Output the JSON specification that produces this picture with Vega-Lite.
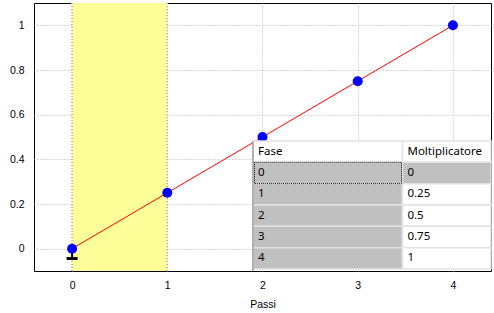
{
  "$schema": "https://vega.github.io/schema/vega-lite/v6.json",
  "width": 457,
  "height": 268,
  "autosize": "none",
  "padding": {"left": 34, "top": 3, "right": 3, "bottom": 42},
  "background": "white",
  "config": {
    "view": {"stroke": "black", "strokeWidth": 1},
    "axis": {
      "labelFont": "Liberation Sans",
      "labelFontSize": 10.5,
      "labelColor": "#000000",
      "titleFont": "Liberation Sans",
      "titleFontSize": 10.5,
      "titleFontWeight": "normal",
      "titleColor": "#000000",
      "domain": false,
      "ticks": false,
      "gridColor": "#b4b4b4",
      "gridDash": [1, 2],
      "gridWidth": 1
    }
  },
  "datasets": {
    "serie": [
      {"Passi": 0, "Moltiplicatore": 0, "ErrMin": -0.044},
      {"Passi": 1, "Moltiplicatore": 0.25},
      {"Passi": 2, "Moltiplicatore": 0.5},
      {"Passi": 3, "Moltiplicatore": 0.75},
      {"Passi": 4, "Moltiplicatore": 1}
    ],
    "tabella": [
      {"Fase": "Fase", "Moltiplicatore": "Moltiplicatore"},
      {"Fase": "0", "Moltiplicatore": "0"},
      {"Fase": "1", "Moltiplicatore": "0.25"},
      {"Fase": "2", "Moltiplicatore": "0.5"},
      {"Fase": "3", "Moltiplicatore": "0.75"},
      {"Fase": "4", "Moltiplicatore": "1"}
    ]
  },
  "layer": [
    {
      "data": {"name": "serie"},
      "layer": [
        {
          "data": {"values": [{"inizio": 0, "fine": 1}]},
          "mark": {"type": "rect", "color": "#ffff99"},
          "encoding": {
            "x": {"field": "inizio", "type": "quantitative", "scale": {"domain": [-0.4, 4.4], "nice": false, "zero": false}},
            "x2": {"field": "fine"}
          }
        },
        {
          "mark": {"type": "rule", "color": "#b4b4b4", "strokeDash": [1, 2], "strokeWidth": 1},
          "encoding": {"x": {"datum": 0, "type": "quantitative"}}
        },
        {
          "mark": {"type": "rule", "color": "#b4b4b4", "strokeDash": [1, 2], "strokeWidth": 1},
          "encoding": {"x": {"datum": 1, "type": "quantitative"}}
        },
        {
          "mark": {"type": "line", "color": "#ff0000", "strokeWidth": 1},
          "encoding": {
            "x": {
              "field": "Passi",
              "type": "quantitative",
              "scale": {"domain": [-0.4, 4.4], "nice": false, "zero": false},
              "axis": {"title": "Passi", "values": [0, 1, 2, 3, 4], "format": "d", "labelPadding": 9, "titlePadding": 9}
            },
            "y": {
              "field": "Moltiplicatore",
              "type": "quantitative",
              "scale": {"domain": [-0.1, 1.1], "nice": false, "zero": false},
              "axis": {"title": null, "values": [0, 0.2, 0.4, 0.6, 0.8, 1], "format": "~g", "labelPadding": 10}
            }
          }
        },
        {
          "transform": [{"filter": "isValid(datum.ErrMin)"}],
          "mark": {"type": "rule", "color": "#000000", "strokeWidth": 2},
          "encoding": {
            "x": {"field": "Passi", "type": "quantitative"},
            "y": {"field": "Moltiplicatore", "type": "quantitative"},
            "y2": {"field": "ErrMin"}
          }
        },
        {
          "transform": [{"filter": "isValid(datum.ErrMin)"}],
          "mark": {"type": "tick", "orient": "horizontal", "color": "#000000", "size": 11, "thickness": 3, "opacity": 1},
          "encoding": {
            "x": {"field": "Passi", "type": "quantitative"},
            "y": {"field": "ErrMin", "type": "quantitative"}
          }
        },
        {
          "mark": {"type": "circle", "color": "#0000ff", "size": 100, "opacity": 1},
          "encoding": {
            "x": {"field": "Passi", "type": "quantitative"},
            "y": {"field": "Moltiplicatore", "type": "quantitative"}
          }
        }
      ]
    },
    {
      "data": {"name": "tabella"},
      "encoding": {
        "y": {
          "field": "Fase",
          "type": "ordinal",
          "scale": {"domain": ["Fase", "0", "1", "2", "3", "4"], "range": [138, 266], "paddingInner": 0, "paddingOuter": 0},
          "axis": null
        }
      },
      "layer": [
        {
          "mark": {"type": "rect", "stroke": "#e2e2e2", "strokeWidth": 1.5},
          "encoding": {
            "x": {"datum": 1.9, "type": "quantitative"},
            "x2": {"datum": 3.47},
            "fill": {"condition": {"test": "datum.Fase === 'Fase'", "value": "#ffffff"}, "value": "#c0c0c0"}
          }
        },
        {
          "mark": {"type": "rect", "stroke": "#e2e2e2", "strokeWidth": 1.5},
          "encoding": {
            "x": {"datum": 3.47, "type": "quantitative"},
            "x2": {"datum": 4.4},
            "fill": {"condition": {"test": "datum.Fase === '0'", "value": "#c0c0c0"}, "value": "#ffffff"}
          }
        },
        {
          "transform": [{"filter": "datum.Fase === '0'"}],
          "mark": {"type": "rect", "fill": null, "fillOpacity": 0, "stroke": "#000000", "strokeWidth": 1, "strokeDash": [1, 1]},
          "encoding": {
            "x": {"datum": 1.915, "type": "quantitative"},
            "x2": {"datum": 3.46}
          }
        },
        {
          "mark": {"type": "text", "align": "left", "baseline": "middle", "dx": 5, "font": "Noto Sans", "fontSize": 11.5, "color": "#000000"},
          "encoding": {
            "x": {"datum": 1.9, "type": "quantitative"},
            "text": {"field": "Fase"}
          }
        },
        {
          "mark": {"type": "text", "align": "left", "baseline": "middle", "dx": 5, "font": "Noto Sans", "fontSize": 11.5, "color": "#000000"},
          "encoding": {
            "x": {"datum": 3.47, "type": "quantitative"},
            "text": {"field": "Moltiplicatore"}
          }
        }
      ]
    },
    {
      "data": {"values": [{"bordo": 1.9, "alto": 0.482, "basso": -0.1}]},
      "mark": {"type": "rule", "color": "#a0a0a0", "strokeWidth": 1.5},
      "encoding": {
        "x": {"field": "bordo", "type": "quantitative"},
        "y": {"field": "alto", "type": "quantitative", "scale": {"domain": [-0.1, 1.1], "nice": false, "zero": false}, "axis": null},
        "y2": {"field": "basso"}
      }
    }
  ],
  "resolve": {"scale": {"y": "independent"}}
}
